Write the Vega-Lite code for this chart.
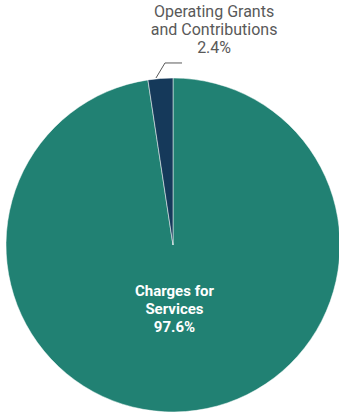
{
  "$schema": "https://vega.github.io/schema/vega-lite/v6.json",
  "width": 334,
  "height": 334,
  "autosize": "none",
  "padding": {"left": 6, "top": 78, "right": 0, "bottom": 0},
  "background": "white",
  "config": {"view": {"stroke": null}},
  "layer": [
    {
      "data": {"values": [
        {"category": "Charges for Services", "share": 97.6, "ord": 1, "label": ["Charges for", "Services", "97.6%"]},
        {"category": "Operating Grants and Contributions", "share": 2.4, "ord": 2, "label": ["Operating Grants", "and Contributions", "2.4%"]}
      ]},
      "layer": [
        {
          "mark": {"type": "arc", "stroke": "white", "strokeWidth": 0.5},
          "encoding": {
            "theta": {"field": "share", "type": "quantitative", "stack": true},
            "order": {"field": "ord", "type": "quantitative"},
            "color": {"field": "category", "type": "nominal", "legend": null,
              "scale": {"domain": ["Charges for Services", "Operating Grants and Contributions"], "range": ["#218173", "#15395a"]}}
          }
        },
        {
          "transform": [{"filter": "datum.ord == 1"}],
          "mark": {"type": "text", "radius": 46, "font": "Roboto, sans-serif", "fontWeight": "bold", "fontSize": 15, "color": "white", "baseline": "middle", "lineHeight": 18, "dx": -2},
          "encoding": {
            "theta": {"field": "share", "type": "quantitative", "stack": true},
            "order": {"field": "ord", "type": "quantitative"},
            "text": {"field": "label"}
          }
        }
      ]
    },
    {
      "data": {"values": [
        {"label": ["Operating Grants", "and Contributions", "2.4%"], "px": 0.246, "py": 1.395}
      ]},
      "mark": {"type": "text", "font": "Roboto, sans-serif", "fontSize": 16, "color": "#595959", "baseline": "middle", "lineHeight": 18, "clip": false},
      "encoding": {
        "x": {"field": "px", "type": "quantitative", "scale": {"domain": [-1, 1]}, "axis": null},
        "y": {"field": "py", "type": "quantitative", "scale": {"domain": [-1, 1]}, "axis": null},
        "text": {"field": "label"}
      }
    },
    {
      "data": {"values": [
        {"px": -0.102, "py": 1.0, "k": 1},
        {"px": -0.048, "py": 1.09, "k": 2},
        {"px": 0.054, "py": 1.09, "k": 3}
      ]},
      "mark": {"type": "line", "color": "#595959", "strokeWidth": 1, "clip": false},
      "encoding": {
        "x": {"field": "px", "type": "quantitative", "scale": {"domain": [-1, 1]}, "axis": null},
        "y": {"field": "py", "type": "quantitative", "scale": {"domain": [-1, 1]}, "axis": null},
        "order": {"field": "k", "type": "quantitative"}
      }
    }
  ]
}
